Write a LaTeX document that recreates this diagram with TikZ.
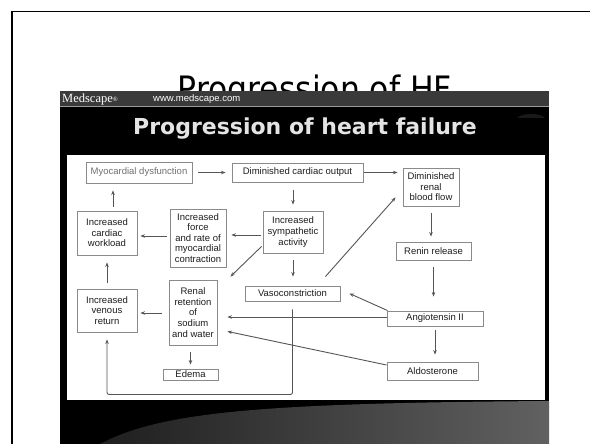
\documentclass[tikz,border=0pt]{standalone}
\usepackage{fontspec}
\setmainfont{Liberation Sans}
\newfontfamily\titlefont{DejaVu Sans Condensed}
\newfontfamily\headfont{DejaVu Sans}
\newfontfamily\logofont{Liberation Serif}
\usetikzlibrary{arrows.meta,calc}
\definecolor{boxline}{HTML}{8A8A8A}
\definecolor{arrowc}{HTML}{555555}
\definecolor{hdrbar}{HTML}{3A3A3A}
\definecolor{boxtext}{HTML}{1E1E1E}
\definecolor{graytext}{HTML}{707070}
\definecolor{headtext}{HTML}{E4E4E4}
\begin{document}
\begin{tikzpicture}[x=1pt,y=-1pt,
  box/.style={draw=boxline, line width=0.9pt, fill=white, align=center, inner sep=0pt, text=boxtext, font=\fontsize{9.5}{10.6}\selectfont},
  arr/.style={draw=arrowc, line width=0.9pt, -{Stealth[length=4.5pt,width=3.5pt]}},
  plain/.style={inner sep=0pt}
]
\useasboundingbox (0,0) rectangle (590,444);
\fill[white] (0,0) rectangle (590,444);
% slide frame
\draw[line width=1.6pt] (12,444) -- (12,11.5) -- (590,11.5);
% slide title
\node[plain, anchor=base, font=\titlefont\fontsize{35}{35}\selectfont] (title) at (315,102) {Progression of HF};
% embedded image
\fill[black] (60,91) rectangle (549,444);
\fill[hdrbar] (60,91) rectangle (549,106);
\draw[color=black!40, line width=0.8pt] (60,106) -- (549,106);
\node[plain, anchor=base west, text=white, font=\logofont\fontsize{12.5}{12.5}\selectfont] (logo) at (62,102.5) {Medscape\raisebox{0.15ex}{\fontsize{6.5}{6.5}\selectfont ®}};
\node[plain, anchor=base west, text=white, font=\fontsize{9.5}{9.5}\selectfont] (url) at (153,102) {www.medscape.com};
\begin{scope}
\clip (515,108) rectangle (548,118);
\fill[black!90] (531,119) ellipse [x radius=14, y radius=5];
\end{scope}
\node[plain, anchor=base, text=headtext, font=\headfont\bfseries\fontsize{22}{22}\selectfont] (heading) at (305,135) {Progression of heart failure};
% bottom swoosh
\shade[left color=black!88, right color=black!62] (100,444) .. controls (160,412) and (260,403) .. (549,401) -- (549,444) -- cycle;
% white diagram panel
\fill[white] (67,155) rectangle (545,400);

% nodes
\node[box, minimum width=106pt, minimum height=21pt, text=graytext] (myo) at (139,172.5) {Myocardial dysfunction};
\node[box, minimum width=131pt, minimum height=19pt] (dco) at (297.5,172.5) {Diminished cardiac output};
\node[box, minimum width=56pt, minimum height=38pt] (drbf) at (431,187) {Diminished\\renal\\blood flow};
\node[box, minimum width=60pt, minimum height=44pt] (icw) at (107,233) {Increased\\cardiac\\workload};
\node[box, minimum width=56pt, minimum height=58pt] (ifr) at (198,238) {Increased\\force\\and rate of\\myocardial\\contraction};
\node[box, minimum width=60pt, minimum height=42pt] (isa) at (293,232) {Increased\\sympathetic\\activity};
\node[box, minimum width=75pt, minimum height=18pt] (renin) at (433.5,251) {Renin release};
\node[box, minimum width=95pt, minimum height=15pt] (vaso) at (292.5,293.5) {Vasoconstriction};
\node[box, minimum width=60pt, minimum height=43pt] (ivr) at (107,310.5) {Increased\\venous\\return};
\node[box, minimum width=48pt, minimum height=65pt] (rr) at (193,312.5) {Renal\\retention\\of\\sodium\\and water};
\node[box, minimum width=96pt, minimum height=15pt] (ang) at (435,318.5) {Angiotensin II};
\node[box, minimum width=55pt, minimum height=11pt] (edema) at (190.5,374.5) {Edema};
\node[box, minimum width=91pt, minimum height=18pt] (aldo) at (432.5,371) {Aldosterone};

% connectors
\draw[arr, shorten <=6pt, shorten >=6pt] (myo.east) -- (dco.west);
\draw[arr, shorten <=1pt, shorten >=5pt] (dco.east) -- (dco.east -| drbf.west);
\draw[arr, shorten <=8pt, shorten >=6pt] (dco.south -| isa.north) -- (isa.north);
\draw[arr, shorten <=7pt, shorten >=5pt] (drbf.south) -- (drbf.south |- renin.north);
\draw[arr, shorten <=7pt, shorten >=14pt] (renin.south) -- (renin.south |- ang.north);
\draw[arr] ([xshift=1pt]ang.north west) -- ($(vaso.east)+(9,0)$);
\draw[arr, shorten >=10pt] ([yshift=1.5pt]ang.west) -- ([yshift=1.5pt]ang.west -| rr.east);
\draw[arr] ([yshift=6pt]aldo.west) -- ($(rr.south east)+(10,-14)$);
\draw[arr, shorten <=4pt, shorten >=7pt] (ang.south) -- (ang.south |- aldo.north);
\draw[arr] ($(vaso.north east)+(-15,-9)$) -- ($(drbf.south west)+(-7,-9)$);
\draw[arr, shorten <=7pt, shorten >=9pt] (isa.south) -- (isa.south |- vaso.north);
\draw[arr] ($(isa.south west)+(-1,-7)$) -- ($(rr.north east)+(13,-3)$);
\draw[arr, shorten <=2pt, shorten >=5pt] ([yshift=-3pt]isa.west) -- ([yshift=-3pt]isa.west -| ifr.east);
\draw[arr, shorten <=3pt, shorten >=3pt] ([yshift=2pt]ifr.west) -- ([yshift=2pt]ifr.west -| icw.east);
\draw[arr, shorten <=4pt, shorten >=7pt] ([xshift=6pt]icw.north) -- ([xshift=6pt]icw.north |- myo.south);
\draw[arr, shorten <=6pt, shorten >=7pt] (ivr.north) -- (icw.south);
\draw[arr, shorten <=7pt, shorten >=3pt] ([yshift=-0.5pt]rr.west) -- ([yshift=-0.5pt]rr.west -| ivr.east);
\draw[arr, shorten <=7pt, shorten >=4pt] (edema.north |- rr.south) -- (edema.north);
\draw[arr, rounded corners=2pt, shorten <=8pt, shorten >=7pt] (vaso.south) |- ($(ivr.south)+(0,62)$) -- (ivr.south);
\end{tikzpicture}
\end{document}
